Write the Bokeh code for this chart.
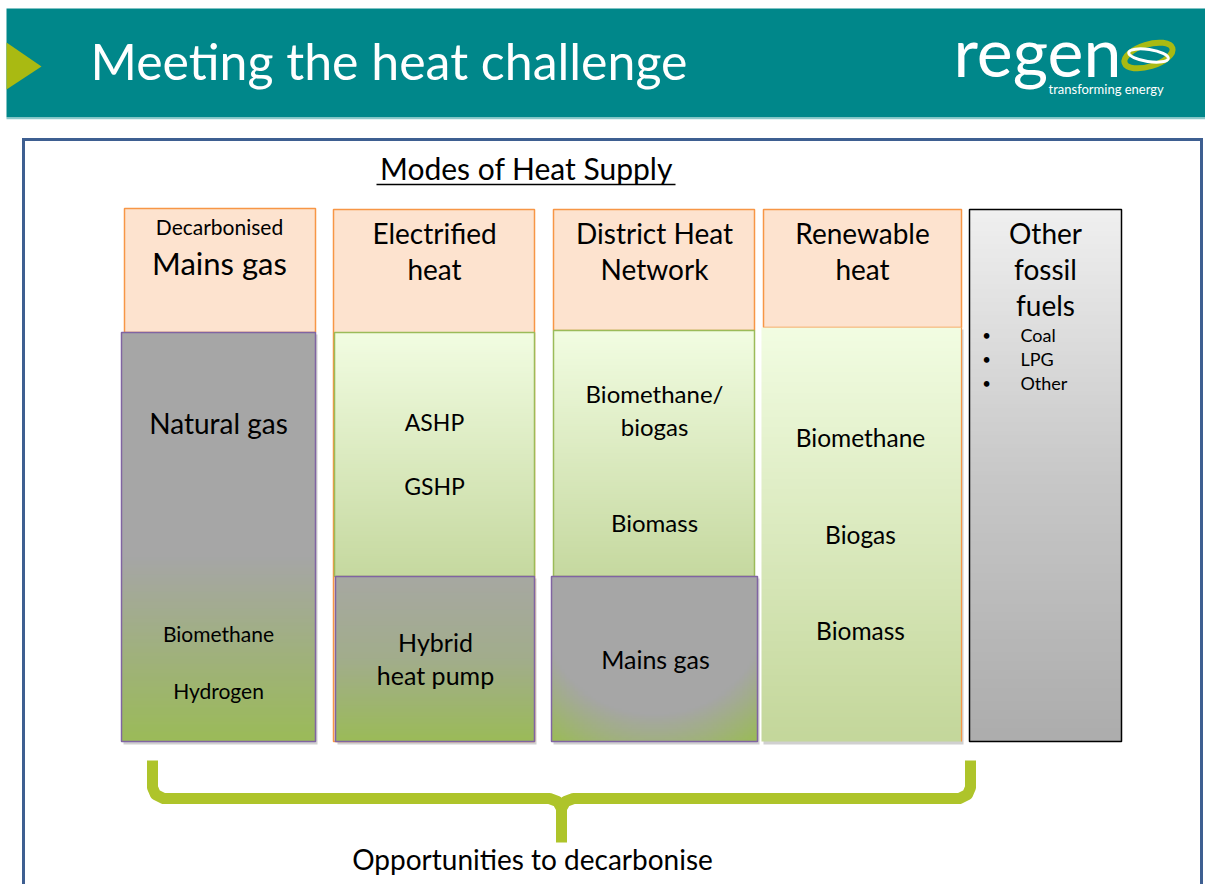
import numpy as np
from bokeh.plotting import figure
from bokeh.models import Range1d
from bokeh.core.properties import value
from bokeh.embed import file_html
from bokeh.resources import INLINE

# ---------------- content ----------------
TITLE = "Meeting the heat challenge"
SUBTITLE = "Modes of Heat Supply"
LOGO = "regen"
LOGO_TAG = "transforming energy"
headers = [["Decarbonised", "Mains gas"], ["Electrified", "heat"], ["District Heat", "Network"],
           ["Renewable", "heat"], ["Other", "fossil", "fuels"]]
upper_items = [["Natural gas"], ["ASHP", "GSHP"], ["Biomethane/", "biogas", "Biomass"],
               ["Biomethane", "Biogas", "Biomass"]]
lower_items = [["Biomethane", "Hydrogen"], ["Hybrid", "heat pump"], ["Mains gas"]]
other_items = ["Coal", "LPG", "Other"]
FOOTER = "Opportunities to decarbonise"

# ---------------- styles ----------------
FONT = "Lato"
TEAL = "#00878A"
LIME = "#A9BA12"
PEACH = "#FDE3CF"
ORANGE = "#F79646"
PURPLE = "#8064A2"
GREEN_LINE = "#9BBB59"
FRAME = "#3E5F91"
BRACE = "#AEC42A"

W, H = 1205, 884
p = figure(width=W, height=H, x_range=Range1d(0, 1205), y_range=Range1d(0, 884),
           output_backend="svg", toolbar_location=None, tools="", min_border=0)
p.axis.visible = False
p.grid.visible = False
p.outline_line_color = None
p.background_fill_color = "white"
p.border_fill_color = "white"

TY = -2  # text vertical nudge


def Y(v):
    return 884 - v


def hexrgb(h):
    return np.array([int(h[i:i + 2], 16) for i in (1, 3, 5)], dtype=float)


def to_img(rgb_top_based):
    h, w, _ = rgb_top_based.shape
    img = np.empty((h, w), dtype=np.uint32)
    v = img.view(dtype=np.uint8).reshape((h, w, 4))
    v[..., :3] = np.clip(rgb_top_based[::-1], 0, 255).astype(np.uint8)
    v[..., 3] = 255
    return img


def vgrad(stops, n=120, w=2):
    t = np.linspace(0, 1, n)
    ts = [s[0] for s in stops]
    cols = np.array([hexrgb(s[1]) for s in stops])
    out = np.zeros((n, w, 3))
    for c in range(3):
        out[:, :, c] = np.interp(t, ts, cols[:, c])[:, None]
    return to_img(out)


def radial(c_in, c_out, cx, cy, rx, ry, d0, d1, n=80, w=80):
    yy, xx = np.mgrid[0:n, 0:w]
    xs = (xx + 0.5) / w
    ys = (yy + 0.5) / n
    d = np.sqrt(((xs - cx) / rx) ** 2 + ((ys - cy) / ry) ** 2)
    f = np.clip((d - d0) / (d1 - d0), 0, 1)[..., None]
    a, b = hexrgb(c_in), hexrgb(c_out)
    return to_img(a * (1 - f) + b * f)


def img(x0, x1, y0, y1, arr):
    p.image_rgba(image=[arr], x=x0, y=Y(y1), dw=x1 - x0, dh=y1 - y0)


def box(x0, x1, y0, y1, fill=None, line=None, lw=1.5):
    p.quad(left=[x0], right=[x1], top=[Y(y0)], bottom=[Y(y1)],
           fill_color=fill, line_color=line, line_width=lw)


def txt(x, y, s, size, color="black", align="center", font=FONT):
    p.text(x=[x], y=[Y(y + TY)], text=[s], text_font=value(font),
           text_font_size=value(f"{size}px"), text_align=align,
           text_baseline="middle", text_color=color)


# ---------------- header band ----------------
box(6, 1205, 8, 117, fill=TEAL, line=None)
p.line([6, 1205], [Y(118), Y(118)], line_color="#8CC9CA", line_width=1.5)
p.patch([6, 41, 6], [Y(42), Y(66), Y(89)], fill_color=LIME, line_color=None)
txt(90, 62, TITLE, 50, "white", align="left")

# logo
txt(953, 52, LOGO, 68, "white", align="left")
txt(1048, 90, LOGO_TAG, 13, "white", align="left")
p.ellipse(x=[1148], y=[Y(55)], width=50, height=22, angle=0.30,
          fill_color=None, line_color=LIME, line_width=6)
p.ellipse(x=[1148], y=[Y(55)], width=40, height=12, angle=-0.15,
          fill_color=None, line_color="white", line_width=3)

# ---------------- frame ----------------
p.line([23, 23, 1201, 1201], [Y(900), Y(139), Y(139), Y(900)],
       line_color=FRAME, line_width=3, line_join="miter")

# subtitle
txt(526, 169, SUBTITLE, 30)
p.line([376, 675], [Y(184), Y(184)], line_color="black", line_width=1.5)

# ---------------- columns ----------------
GREY = "#A6A6A6"
GREEN = "#9BBB59"
LG_TOP = "#F2FDE2"
LG_BOT = "#C4D79B"

# shadows
for (x0, x1, y0, y1) in [(121, 315, 332, 741), (335, 534, 576, 741), (551, 757, 576, 741), (761, 961, 327, 741)]:
    box(x0 + 2, x1 + 2, y0 + 2, y1 + 3, fill="#D0D0D0", line=None)

# column 1 : decarbonised mains gas
box(124, 315, 208, 332, fill=PEACH, line=ORANGE)
img(121, 315, 332, 741, vgrad([(0, GREY), (0.55, GREY), (1, GREEN)]))
box(121, 315, 332, 741, fill=None, line=PURPLE)

# column 2 : electrified heat
box(333, 534, 209, 741, fill=PEACH, line=ORANGE)
img(334, 534, 332, 576, vgrad([(0, LG_TOP), (1, "#C6D9A0")]))
box(334, 534, 332, 576, fill=None, line=GREEN_LINE)
img(335, 534, 576, 741, vgrad([(0, "#A7A8A2"), (0.5, "#A2AD8C"), (1, GREEN)]))
box(335, 534, 576, 741, fill=None, line=PURPLE)

# column 3 : district heat network
box(553, 754, 209, 330, fill=PEACH, line=ORANGE)
img(553, 754, 330, 576, vgrad([(0, LG_TOP), (1, "#C6D9A0")]))
box(553, 754, 330, 576, fill=None, line=GREEN_LINE)
img(551, 757, 576, 741, radial(GREY, GREEN, 0.5, 0.2, 0.72, 0.85, 0.75, 1.15))
box(551, 757, 576, 741, fill=None, line=PURPLE)

# column 4 : renewable heat
box(763, 961, 209, 327, fill=PEACH, line=ORANGE)
img(761, 961, 327, 741, vgrad([(0, LG_TOP), (1, LG_BOT)]))
p.line([961, 961], [Y(327), Y(741)], line_color=ORANGE, line_width=1.2)

# column 5 : other fossil fuels
img(969, 1121, 209, 741, vgrad([(0, "#F0F0F0"), (0.5, "#C8C8C8"), (1, "#ADADAD")]))
box(969, 1121, 209, 741, fill=None, line="black", lw=1.5)

# header texts
txt(219, 228, headers[0][0], 21)
txt(219, 264, headers[0][1], 31)
for cx, lines in zip([434, 654, 862], headers[1:4]):
    for i, s in enumerate(lines):
        txt(cx, 234 + 36 * i, s, 28)
for i, s in enumerate(headers[4]):
    txt(1045, 234 + 36 * i, s, 28)

# body texts
txt(218, 424, upper_items[0][0], 28)
for s, yy in zip(upper_items[1], [423, 487]):
    txt(434, yy, s, 23)
for s, yy in zip(upper_items[2], [395, 428, 524]):
    txt(654, yy, s, 24)
for s, yy in zip(upper_items[3], [439, 536, 632]):
    txt(860, yy, s, 24.5)
for s, yy in zip(lower_items[0], [635, 692]):
    txt(218, yy, s, 21)
for s, yy in zip(lower_items[1], [643, 676]):
    txt(435, yy, s, 25)
txt(655, 660, lower_items[2][0], 25)

for s, yy in zip(other_items, [336, 360, 384]):
    txt(986, yy, "\u2022", 15)
    txt(1020, yy, s, 18, align="left")

# ---------------- brace ----------------
p.line([152, 152, 155, 163, 549, 557, 561, 561],
       [Y(760), Y(787), Y(794), Y(798), Y(798), Y(801), Y(808), Y(842)],
       line_color=BRACE, line_width=11, line_join="round")
p.line([970, 970, 967, 959, 573, 565, 561],
       [Y(760), Y(787), Y(794), Y(798), Y(798), Y(801), Y(808)],
       line_color=BRACE, line_width=11, line_join="round")
txt(532, 860, FOOTER, 28)

open("out.html", "w").write(file_html(p, INLINE))
